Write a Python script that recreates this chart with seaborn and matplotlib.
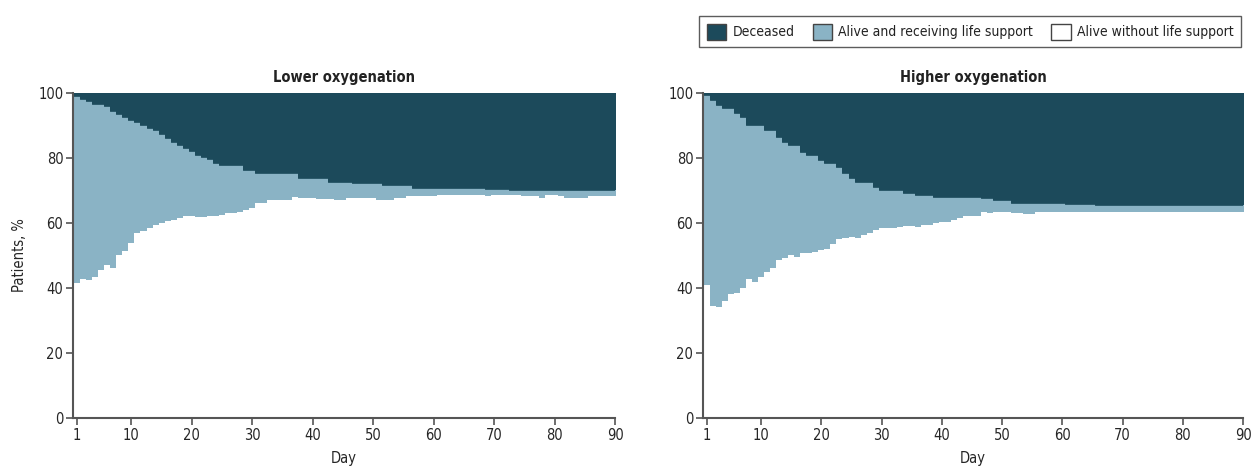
"""Stacked outcome plot: deceased / on life support / alive without life support."""

import numpy as np
import seaborn as sns
import matplotlib.pyplot as plt
from matplotlib.patches import Patch

###################################################################################################
###################################################################################################

days = np.arange(1, 91)

# Lower oxygenation: top of "alive on life support" band, and top of "alive without support"
lower_top = [99.2, 98.2, 97.5, 96.6, 96.6, 95.9, 94.6, 93.6, 92.6, 91.7,
             91.0, 90.2, 89.2, 88.5, 87.4, 86.3, 84.9, 84.1, 83.2, 82.3,
             81.0, 80.3, 79.8, 78.6, 77.8, 77.8, 77.8, 77.8, 76.4, 76.3,
             75.3, 75.3, 75.3, 75.3, 75.3, 75.3, 75.3, 73.7, 73.7, 73.7,
             73.7, 73.7, 72.7, 72.7, 72.7, 72.7, 72.2, 72.2, 72.2, 72.2,
             72.2, 71.7, 71.7, 71.7, 71.7, 71.7, 70.7, 70.7, 70.7, 70.7,
             70.7, 70.7, 70.7, 70.7, 70.7, 70.7, 70.7, 70.7, 70.5, 70.5,
             70.5, 70.5, 70.0, 70.0, 70.0, 70.0, 70.0, 70.0, 70.0, 70.0,
             70.0, 70.0, 70.0, 70.0, 70.0, 70.0, 70.0, 70.0, 70.0, 70.0]
lower_free = [41.5, 42.9, 42.6, 43.5, 45.6, 47.1, 46.0, 50.2, 51.5, 53.8,
              56.8, 57.5, 58.4, 59.4, 60.0, 60.6, 61.0, 61.4, 62.1, 62.1,
              61.9, 61.9, 62.0, 62.0, 62.5, 63.0, 63.0, 63.5, 64.0, 64.5,
              66.3, 66.3, 67.1, 67.1, 67.1, 67.1, 68.1, 67.6, 67.6, 67.6,
              67.3, 67.3, 67.3, 67.1, 67.1, 67.6, 67.6, 67.6, 67.6, 67.6,
              67.1, 67.1, 67.1, 67.6, 67.6, 68.3, 68.3, 68.3, 68.3, 68.3,
              68.5, 68.5, 68.5, 68.5, 68.5, 68.5, 68.5, 68.5, 68.3, 68.6,
              68.6, 68.6, 68.6, 68.6, 68.3, 68.3, 68.3, 67.8, 68.6, 68.6,
              68.3, 67.8, 67.8, 67.8, 67.8, 68.3, 68.3, 68.3, 68.3, 68.3]

# Higher oxygenation
higher_top = [99.4, 97.8, 96.3, 95.3, 95.3, 93.7, 92.7, 90.2, 90.2, 90.2,
              88.6, 88.6, 86.6, 85.0, 84.0, 84.0, 81.9, 80.9, 80.9, 79.4,
              78.4, 78.4, 77.3, 75.3, 73.7, 72.7, 72.7, 72.7, 71.2, 70.2,
              70.2, 70.2, 70.2, 69.1, 69.1, 68.6, 68.6, 68.6, 68.1, 68.1,
              68.1, 68.1, 68.1, 68.1, 68.1, 68.1, 67.6, 67.6, 67.1, 67.1,
              67.1, 66.3, 66.3, 66.3, 66.3, 66.3, 66.3, 66.3, 66.3, 66.3,
              65.8, 65.8, 65.8, 65.8, 65.8, 65.5, 65.5, 65.5, 65.5, 65.5,
              65.5, 65.5, 65.5, 65.5, 65.5, 65.5, 65.5, 65.5, 65.5, 65.5,
              65.5, 65.5, 65.5, 65.5, 65.5, 65.5, 65.5, 65.5, 65.5, 65.5]
higher_free = [40.9, 34.6, 34.0, 36.0, 38.1, 38.4, 40.1, 42.8, 41.9, 43.5,
               44.8, 46.3, 48.6, 49.3, 50.2, 49.6, 50.7, 50.7, 51.2, 51.7,
               52.0, 53.4, 55.1, 55.5, 55.8, 55.5, 56.3, 56.8, 57.8, 58.6,
               58.6, 58.6, 58.9, 59.2, 59.2, 58.9, 59.4, 59.4, 59.9, 60.4,
               60.4, 60.9, 61.4, 62.3, 62.3, 62.3, 63.3, 63.0, 63.3, 63.3,
               63.3, 63.0, 63.0, 62.8, 62.8, 63.5, 63.5, 63.5, 63.5, 63.5,
               63.5, 63.5, 63.5, 63.5, 63.5, 63.5, 63.5, 63.5, 63.5, 63.5,
               63.5, 63.5, 63.5, 63.5, 63.5, 63.5, 63.5, 63.5, 63.5, 63.5,
               63.5, 63.5, 63.5, 63.5, 63.5, 63.5, 63.5, 63.5, 63.5, 63.5]

panel_titles = ['Lower oxygenation', 'Higher oxygenation']
legend_labels = ['Deceased', 'Alive and receiving life support', 'Alive without life support']
x_ticks = [1, 10, 20, 30, 40, 50, 60, 70, 80, 90]
y_ticks = [0, 20, 40, 60, 80, 100]

col_dead = '#1c4a5b'
col_support = '#8ab3c5'
col_free = 'white'
col_axis = '#555555'

###################################################################################################
###################################################################################################

sns.set_style('white')
plt.rcParams['font.family'] = ['DejaVu Sans']
plt.rcParams['font.stretch'] = 'condensed'
plt.rcParams['text.color'] = '#222222'

fig = plt.figure(figsize=[12.51, 4.69], dpi=100)
ax_l = fig.add_axes([73/1251, 51/469, 542/1251, 325/469])
ax_r = fig.add_axes([703/1251, 51/469, 540/1251, 325/469])

x_lo = 0.34
edges = np.r_[x_lo, days[1:] - 0.5, 90.5]

for ax, title, top, free in zip([ax_l, ax_r], panel_titles,
                                [lower_top, higher_top], [lower_free, higher_free]):

    top = np.append(top, top[-1])
    free = np.append(free, free[-1])

    ax.fill_between(edges, top, 100, step='post', color=col_dead, lw=0)
    ax.fill_between(edges, free, top, step='post', color=col_support, lw=0)
    sns.lineplot(x=edges, y=top, drawstyle='steps-post', color=col_dead, lw=0.6, ax=ax)

    ax.set_xlim([x_lo, 90])
    ax.set_ylim([0, 100])
    ax.set_xticks(x_ticks)
    ax.set_yticks(y_ticks)

    # Titles & Labels
    ax.set_title(title, fontsize=10.5, fontweight='bold', pad=8)
    ax.set_xlabel('Day', fontsize=10.5, labelpad=6)
    ax.tick_params(axis='both', labelsize=10.5, length=5, width=1.2, color=col_axis,
                   direction='out', pad=2)

    # Set the top and right side frame & ticks off
    ax.spines['right'].set_visible(False)
    ax.spines['top'].set_visible(False)
    ax.xaxis.set_ticks_position('bottom')
    ax.yaxis.set_ticks_position('left')
    ax.spines['left'].set_linewidth(1.5)
    ax.spines['bottom'].set_linewidth(1.5)
    ax.spines['left'].set_color(col_axis)
    ax.spines['bottom'].set_color(col_axis)

ax_l.set_ylabel('Patients, %', fontsize=10.5, labelpad=8)

handles = [Patch(facecolor=c, edgecolor='#444444', lw=1) for c in [col_dead, col_support, col_free]]
fig.legend(handles, legend_labels, ncol=3, loc='upper right',
           bbox_to_anchor=(1248/1251, 1 - 9/469), frameon=True, fancybox=False,
           edgecolor='#333333', fontsize=10, handlelength=1.4, handleheight=1.4,
           handletextpad=0.45, columnspacing=1.3, borderpad=0.55)

plt.savefig('out.png', dpi=100)
